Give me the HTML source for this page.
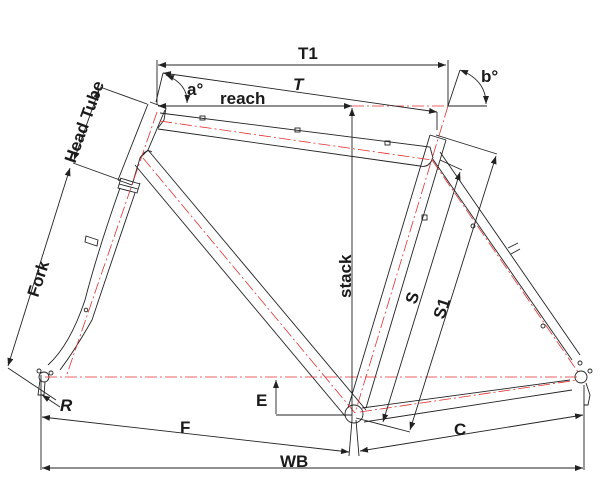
<!DOCTYPE html>
<html><head><meta charset="utf-8"><style>
html,body{margin:0;padding:0;background:#fff}
svg{display:block}
text{font-family:"Liberation Sans",sans-serif;font-weight:bold;fill:#1a1a1a}
</style></head><body>
<svg width="600" height="489" viewBox="0 0 600 489" xmlns="http://www.w3.org/2000/svg">
<defs>
<marker id="a" markerWidth="8" markerHeight="6" refX="8" refY="3" orient="auto-start-reverse" markerUnits="userSpaceOnUse"><path d="M0,0 L8,3 L0,6z" fill="#222"/></marker>
</defs>
<g stroke="#222" stroke-width="0.9" fill="none">
<path d="M160,113 L430,147 L433,158 M158,129 L420,166 Q428,168 432,160"/>
<path d="M148,104 L118,180 M165,110 L148,150 L140,158 M118,180 L132,185 M140,158 L132,185"/>
<path d="M150,102 L166,108 L164,120 L158,128"/>
<path d="M120,178 L140,184 M119,184 L138,189 M121,178 L118,188 L137,193 L140,183"/>
<path d="M120,188 Q98,250 85,300 Q70,345 48,365 M135,193 Q112,260 92,320 Q75,350 60,370"/>
<circle cx="44" cy="377" r="5"/><circle cx="39" cy="371" r="2"/><circle cx="51" cy="373" r="2"/>
<path d="M40,380 L38,395 L44,395 L45,382"/>
<path d="M148,150 L366,410 M135,165 L345,416"/>
<path d="M140,158 Q146,148 152,152"/>
<path d="M430,135 L348,408 M446,140 L366,408 M430,135 L446,140"/>
<path d="M432,158 L572,360 M440,152 L580,355"/>
<path d="M362,408 L570,380 M364,422 L572,390"/>
<circle cx="354" cy="414" r="9"/>
<circle cx="581" cy="377" r="6"/><circle cx="580" cy="363" r="2"/><circle cx="590" cy="371" r="2"/>
<path d="M586,383 L590,395 L588,405 L584,405"/>
<rect x="200" y="116" width="5" height="4"/><rect x="295" y="128" width="5" height="4"/><rect x="385" y="141" width="5" height="4"/>
<rect x="422" y="215" width="5" height="5"/>
<path d="M86,236 L98,240 L97,246 L85,242z"/>
<path d="M508,248 L518,243 M511,254 L520,249"/>
<circle cx="86" cy="310" r="1.8"/><circle cx="473" cy="226" r="2"/><circle cx="543" cy="326" r="2"/>
</g>
<g stroke="#e53030" stroke-width="0.8" fill="none" stroke-dasharray="12,3,2,3">
<path d="M160,121 L432,160"/>
<path d="M157,112 L66,377"/>
<path d="M143,158 L355,413"/>
<path d="M448,106 L355,413"/>
<path d="M432,160 L578,372"/>
<path d="M360,412 L578,380"/>
<path d="M45,377 L578,377"/>
<path d="M352,106 L448,106"/>
</g>
<g stroke="#222" stroke-width="0.9" fill="none">
<path d="M157,60 L157,105 M448,60 L448,106"/>
<path d="M158,65 L446,65" marker-start="url(#a)" marker-end="url(#a)"/>
<path d="M163,73 L437,112" marker-start="url(#a)" marker-end="url(#a)"/>
<path d="M437,112 L437,130"/>
<path d="M158,106 L352,106" marker-start="url(#a)" marker-end="url(#a)"/>
<path d="M163,73 L156,102"/>
<path d="M352,108 L352,420" marker-start="url(#a)"/>
<path d="M166,75 Q188,84 187,103" marker-start="url(#a)" marker-end="url(#a)"/>
<path d="M448,106 L460,70 M448,106 L487,106"/>
<path d="M460,70 Q486,80 486,104" marker-start="url(#a)" marker-end="url(#a)"/>
<path d="M147,104 L100,87 M120,180 L73,163 M56,400 L8,368"/>
<path d="M99,90 L74,160" marker-start="url(#a)" marker-end="url(#a)"/>
<path d="M70,168 L8,366" marker-start="url(#a)" marker-end="url(#a)"/>
<path d="M42,395 L60,407" marker-start="url(#a)"/>
<path d="M436,135 L497,154 M440,160 L462,170 M356,418 L410,432"/>
<path d="M496,156 L410,430" marker-start="url(#a)" marker-end="url(#a)"/>
<path d="M460,172 L383,422" marker-start="url(#a)" marker-end="url(#a)"/>
<path d="M276,415 L352,415"/>
<path d="M276,380 L276,414" marker-start="url(#a)"/>
<path d="M41,375 L41,470 M584,385 L584,470 M352,420 L349,456 M356,420 L359,456"/>
<path d="M42,417 L349,452" marker-start="url(#a)" marker-end="url(#a)"/>
<path d="M360,451 L583,415" marker-start="url(#a)" marker-end="url(#a)"/>
<path d="M42,468 L583,468" marker-start="url(#a)" marker-end="url(#a)"/>
</g>
<text x="298" y="59" font-size="17">T1</text>
<text x="293" y="90" font-size="17" font-style="italic">T</text>
<text x="220" y="104" font-size="17">reach</text>
<text x="187" y="95" font-size="17">a°</text>
<text x="481" y="82" font-size="17">b°</text>
<text transform="translate(351,298) rotate(-90)" font-size="17">stack</text>
<text transform="translate(75,164) rotate(-70)" font-size="17">Head Tube</text>
<text transform="translate(38,298) rotate(-72)" font-size="17">Fork</text>
<text x="60" y="411" font-size="17" font-style="italic">R</text>
<text transform="translate(416,305) rotate(-72)" font-size="17">S</text>
<text transform="translate(444,320) rotate(-72)" font-size="17">S1</text>
<text x="256" y="406" font-size="17">E</text>
<text x="180" y="433" font-size="17">F</text>
<text x="454" y="435" font-size="17">C</text>
<text x="280" y="467" font-size="17">WB</text>
</svg>
</body></html>
